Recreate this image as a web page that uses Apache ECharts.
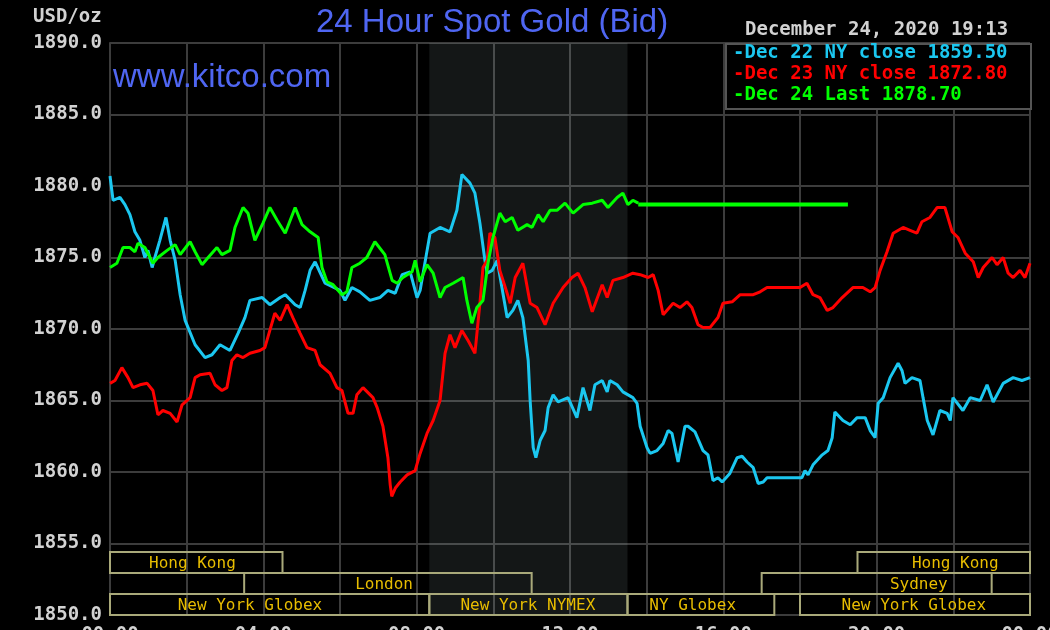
<!DOCTYPE html>
<html>
<head>
<meta charset="utf-8">
<script src="https://cdn.jsdelivr.net/npm/echarts@6/dist/echarts.min.js"></script>
<style>
  html, body { margin: 0; padding: 0; background: #000; }
  #chart { width: 1050px; height: 630px; }
</style>
</head>
<body>
<div id="chart"></div>
<script>
// [hour, USD/oz]
const dec22 = [[0,1880.7],[0.08,1879.0],[0.26,1879.2],[0.39,1878.7],[0.52,1878.0],[0.65,1876.8],[0.78,1876.2],[0.91,1875.0],[0.99,1875.5],[1.10,1874.3],[1.17,1875.0],[1.30,1876.2],[1.46,1877.8],[1.57,1876.2],[1.70,1874.8],[1.83,1872.4],[1.96,1870.6],[2.22,1868.9],[2.48,1868.0],[2.66,1868.2],[2.87,1868.9],[3.13,1868.5],[3.34,1869.7],[3.52,1870.8],[3.65,1872.0],[3.97,1872.2],[4.17,1871.7],[4.44,1872.2],[4.57,1872.4],[4.83,1871.7],[4.96,1871.5],[5.09,1872.7],[5.22,1874.1],[5.35,1874.7],[5.61,1873.2],[6.00,1872.7],[6.13,1872.0],[6.31,1872.9],[6.52,1872.6],[6.78,1872.0],[7.04,1872.2],[7.25,1872.7],[7.44,1872.5],[7.62,1873.8],[7.83,1874.0],[8.01,1872.2],[8.09,1872.7],[8.35,1876.7],[8.61,1877.1],[8.87,1876.8],[9.05,1878.3],[9.18,1880.8],[9.39,1880.2],[9.52,1879.5],[9.65,1877.4],[9.78,1874.8],[9.84,1873.9],[9.97,1874.1],[10.10,1874.8],[10.36,1870.8],[10.51,1871.3],[10.64,1872.0],[10.77,1870.8],[10.91,1867.8],[10.96,1865.0],[11.04,1861.7],[11.11,1861.0],[11.22,1862.2],[11.35,1862.9],[11.43,1864.5],[11.56,1865.4],[11.69,1864.9],[11.95,1865.2],[12.18,1863.8],[12.34,1865.9],[12.52,1864.3],[12.65,1866.1],[12.84,1866.4],[12.97,1865.6],[13.04,1866.4],[13.23,1866.1],[13.38,1865.6],[13.64,1865.2],[13.75,1864.8],[13.83,1863.2],[14.01,1861.7],[14.09,1861.3],[14.27,1861.5],[14.43,1862.0],[14.56,1862.9],[14.66,1862.7],[14.82,1860.7],[15.00,1863.2],[15.08,1863.2],[15.26,1862.8],[15.47,1861.5],[15.60,1861.2],[15.73,1859.4],[15.86,1859.6],[15.97,1859.3],[16.17,1859.9],[16.36,1861.0],[16.49,1861.1],[16.62,1860.7],[16.78,1860.3],[16.91,1859.2],[17.04,1859.3],[17.14,1859.6],[18.05,1859.6],[18.13,1860.1],[18.21,1859.8],[18.34,1860.5],[18.58,1861.2],[18.73,1861.5],[18.84,1862.4],[18.91,1864.2],[19.12,1863.6],[19.31,1863.3],[19.49,1863.8],[19.70,1863.8],[19.83,1862.9],[19.96,1862.4],[20.04,1864.8],[20.17,1865.2],[20.35,1866.6],[20.56,1867.6],[20.66,1867.1],[20.74,1866.2],[20.92,1866.6],[21.13,1866.4],[21.21,1865.2],[21.32,1863.6],[21.47,1862.6],[21.65,1864.3],[21.84,1864.1],[21.92,1863.6],[21.99,1865.2],[22.25,1864.3],[22.44,1865.2],[22.70,1865.0],[22.88,1866.1],[23.04,1864.9],[23.30,1866.2],[23.56,1866.6],[23.79,1866.4],[24,1866.6]];

const dec23 = [[0,1866.2],[0.13,1866.4],[0.31,1867.3],[0.47,1866.6],[0.60,1865.9],[0.78,1866.1],[0.97,1866.2],[1.12,1865.7],[1.25,1864.0],[1.38,1864.3],[1.57,1864.1],[1.75,1863.5],[1.88,1864.7],[2.09,1865.2],[2.22,1866.6],[2.35,1866.8],[2.61,1866.9],[2.74,1866.1],[2.92,1865.7],[3.05,1865.9],[3.18,1867.8],[3.31,1868.2],[3.47,1868.0],[3.65,1868.3],[3.91,1868.5],[4.04,1868.7],[4.17,1869.9],[4.30,1871.1],[4.44,1870.6],[4.62,1871.7],[4.77,1870.8],[4.96,1869.7],[5.14,1868.7],[5.35,1868.5],[5.48,1867.5],[5.74,1866.9],[5.92,1865.9],[6.05,1865.7],[6.21,1864.1],[6.34,1864.1],[6.44,1865.4],[6.60,1865.9],[6.86,1865.2],[6.97,1864.5],[7.12,1863.2],[7.25,1861.0],[7.31,1859.1],[7.35,1858.3],[7.45,1858.9],[7.57,1859.3],[7.75,1859.8],[7.96,1860.1],[8.09,1861.3],[8.27,1862.7],[8.43,1863.6],[8.61,1865.0],[8.74,1868.3],[8.87,1869.6],[9.00,1868.7],[9.18,1869.9],[9.34,1869.2],[9.52,1868.3],[9.65,1871.8],[9.73,1874.3],[9.84,1874.8],[9.91,1876.7],[10.04,1876.4],[10.17,1874.1],[10.36,1872.5],[10.44,1871.8],[10.57,1873.6],[10.77,1874.6],[10.96,1871.8],[11.14,1871.5],[11.35,1870.3],[11.56,1871.8],[11.82,1872.9],[12.05,1873.6],[12.21,1873.9],[12.39,1872.9],[12.58,1871.2],[12.84,1873.1],[12.97,1872.2],[13.12,1873.4],[13.38,1873.6],[13.64,1873.9],[13.83,1873.8],[14.04,1873.6],[14.17,1873.8],[14.30,1872.7],[14.43,1871.0],[14.69,1871.8],[14.87,1871.5],[15.05,1871.9],[15.18,1871.5],[15.34,1870.3],[15.47,1870.1],[15.65,1870.1],[15.86,1870.8],[15.99,1871.8],[16.23,1871.9],[16.44,1872.4],[16.78,1872.4],[16.96,1872.6],[17.14,1872.9],[18.00,1872.9],[18.18,1873.2],[18.34,1872.4],[18.52,1872.2],[18.71,1871.3],[18.86,1871.5],[19.10,1872.2],[19.38,1872.9],[19.64,1872.9],[19.83,1872.6],[19.96,1872.9],[20.09,1874.1],[20.27,1875.4],[20.43,1876.7],[20.69,1877.1],[20.87,1876.9],[21.05,1876.7],[21.18,1877.5],[21.39,1877.8],[21.58,1878.5],[21.78,1878.5],[21.97,1876.8],[22.12,1876.4],[22.31,1875.3],[22.52,1874.7],[22.65,1873.6],[22.78,1874.3],[23.01,1875.0],[23.14,1874.5],[23.30,1875.0],[23.43,1873.9],[23.56,1873.6],[23.74,1874.1],[23.87,1873.6],[24,1874.6]];

const dec24 = [[0,1874.3],[0.18,1874.6],[0.34,1875.7],[0.52,1875.7],[0.65,1875.4],[0.73,1876.0],[0.91,1875.7],[1.12,1874.6],[1.25,1875.0],[1.49,1875.5],[1.70,1875.9],[1.83,1875.2],[2.09,1876.1],[2.22,1875.4],[2.40,1874.5],[2.56,1875.0],[2.79,1875.7],[2.92,1875.2],[3.13,1875.5],[3.26,1877.1],[3.47,1878.5],[3.60,1878.1],[3.78,1876.2],[3.99,1877.4],[4.17,1878.5],[4.36,1877.6],[4.57,1876.7],[4.83,1878.5],[5.01,1877.3],[5.22,1876.8],[5.43,1876.4],[5.53,1874.3],[5.66,1873.3],[5.82,1873.1],[6.05,1872.4],[6.18,1872.6],[6.31,1874.3],[6.52,1874.6],[6.70,1875.0],[6.91,1876.1],[7.17,1875.2],[7.36,1873.4],[7.49,1873.2],[7.64,1873.6],[7.88,1874.0],[7.96,1874.8],[8.09,1873.3],[8.27,1874.5],[8.43,1873.9],[8.61,1872.2],[8.74,1872.9],[8.95,1873.2],[9.21,1873.6],[9.31,1872.0],[9.44,1870.4],[9.57,1871.5],[9.73,1872.0],[9.86,1874.6],[9.99,1876.4],[10.17,1878.1],[10.31,1877.5],[10.49,1877.8],[10.64,1876.9],[10.88,1877.3],[11.01,1877.1],[11.17,1878.0],[11.30,1877.5],[11.48,1878.3],[11.66,1878.3],[11.87,1878.8],[12.08,1878.1],[12.34,1878.7],[12.58,1878.8],[12.84,1879.0],[12.99,1878.5],[13.23,1879.2],[13.38,1879.5],[13.51,1878.7],[13.64,1879.0],[13.78,1878.8]];

// last price held flat after trading pause
const lastHours = [13.78, 19.25];
const lastPrice = 1878.7;

const legendLines = ['-Dec 22 NY close 1859.50', '-Dec 23 NY close 1872.80', '-Dec 24 Last 1878.70'];
const lineColors = ['#1bc7f0', '#ff0000', '#00ff00'];

// NYMEX session shading (hours)
const nymexStart = 8.33;
const nymexEnd = 13.5;

// market session boxes
const sessionNames = ['Hong Kong', 'London', 'New York Globex', 'New York NYMEX', 'NY Globex', 'Hong Kong', 'Sydney', 'New York Globex'];
const sessionStart = [0, 3.5, 0, 8.33, 13.5, 19.5, 17, 18];
const sessionEnd = [4.5, 11, 8.33, 13.5, 17.33, 24, 23, 24];
const sessionRow = [0, 1, 2, 2, 2, 0, 1, 2];
const sessionLabelAt = [2.15, 7.15, 3.65, 10.9, 15.2, 22.05, 21.1, 20.97];

const yTicks = { min: 1850, max: 1890, step: 5 };

const mono = '"DejaVu Sans Mono", "Liberation Mono", monospace';
const gray = '#d2d2d2';
const gridColor = '#3c3c3c';

const chart = echarts.init(document.getElementById('chart'));

const sessionData = sessionStart.map((s, i) => [s, sessionEnd[i], sessionRow[i], sessionLabelAt[i]]);

const option = {
  backgroundColor: '#000',
  animation: false,
  grid: { left: 110, right: 20, top: 43, bottom: 15, outerBoundsMode: 'none', containLabel: false },
  xAxis: {
    type: 'value', min: 0, max: 24, interval: 2,
    axisLine: { show: true, lineStyle: { color: gridColor, width: 2 } },
    axisTick: { show: false },
    splitLine: { show: true, lineStyle: { color: gridColor, width: 2 } },
    axisLabel: {
      margin: 11, showMaxLabel: true, showMinLabel: true,
      color: gray, fontFamily: mono, fontWeight: 'bold', fontSize: 19,
      formatter: v => (v % 4 === 0 ? String(v % 24).padStart(2, '0') + ':00' : '')
    }
  },
  yAxis: {
    type: 'value', min: yTicks.min, max: yTicks.max, interval: yTicks.step,
    axisLine: { show: true, lineStyle: { color: gridColor, width: 2 } },
    axisTick: { show: false },
    splitLine: { show: true, lineStyle: { color: gridColor, width: 2 } },
    axisLabel: {
      margin: 8, color: gray, fontFamily: mono, fontWeight: 'bold', fontSize: 19,
      formatter: v => v.toFixed(1)
    }
  },
  series: [
    {
      name: 'Dec 22', type: 'line', data: dec22, showSymbol: false, symbol: 'none',
      lineStyle: { color: lineColors[0], width: 3 }, z: 3,
      markArea: {
        silent: true,
        itemStyle: { color: 'rgba(200,230,230,0.1)' },
        data: [[{ xAxis: nymexStart }, { xAxis: nymexEnd }]]
      }
    },
    {
      name: 'Dec 23', type: 'line', data: dec23, showSymbol: false, symbol: 'none',
      lineStyle: { color: lineColors[1], width: 3 }, z: 4
    },
    {
      name: 'Dec 24', type: 'line', data: dec24, showSymbol: false, symbol: 'none',
      lineStyle: { color: lineColors[2], width: 3 }, z: 5
    },
    {
      name: 'Dec 24 last', type: 'line', data: lastHours.map(h => [h, lastPrice]),
      showSymbol: false, symbol: 'none',
      lineStyle: { color: lineColors[2], width: 4 }, z: 5
    },
    {
      name: 'sessions', type: 'custom', data: sessionData, clip: false, silent: true, z: 6,
      encode: { x: [0, 1, 3] },
      renderItem: function (params, api) {
        const cs = params.coordSys;
        const yBottom = cs.y + cs.height;
        const rowH = 21;
        const row = api.value(2);
        const x1 = api.coord([api.value(0), yTicks.min])[0];
        const x2 = api.coord([api.value(1), yTicks.min])[0];
        const xl = api.coord([api.value(3), yTicks.min])[0];
        const top = yBottom - (3 - row) * rowH;
        return {
          type: 'group',
          children: [
            {
              type: 'rect',
              shape: { x: x1, y: top, width: x2 - x1, height: rowH },
              style: { fill: null, stroke: '#a9a97a', lineWidth: 2 }
            },
            {
              type: 'text',
              style: {
                text: sessionNames[params.dataIndex],
                x: xl, y: top + rowH / 2 + 1,
                align: 'center', verticalAlign: 'middle',
                fill: '#e8bd00', font: '16px ' + mono
              }
            }
          ]
        };
      }
    }
  ],
  graphic: [
    {
      type: 'text', left: 316, top: 6, z: 50,
      style: { text: '24 Hour Spot Gold (Bid)', fill: '#4f66f2', font: '33px "Liberation Sans", Arial, sans-serif' }
    },
    {
      type: 'text', left: 113, top: 61, z: 50,
      style: { text: 'www.kitco.com', fill: '#4f66f2', font: '33px "Liberation Sans", Arial, sans-serif' }
    },
    {
      type: 'text', left: 33, top: 8, z: 50,
      style: { text: 'USD/oz', fill: gray, font: 'bold 19px ' + mono }
    },
    {
      type: 'text', left: 745, top: 21, z: 50,
      style: { text: 'December 24, 2020 19:13', fill: gray, font: 'bold 19px ' + mono }
    },
    {
      type: 'rect', left: 725, top: 43, z: 40,
      shape: { width: 305, height: 65 },
      style: { fill: '#000', stroke: '#555', lineWidth: 2 }
    },
    ...legendLines.map((t, i) => ({
      type: 'text', left: 733, top: 44 + i * 21, z: 50,
      style: { text: t, fill: lineColors[i], font: 'bold 19px ' + mono }
    }))
  ]
};

chart.setOption(option);
</script>
</body>
</html>
